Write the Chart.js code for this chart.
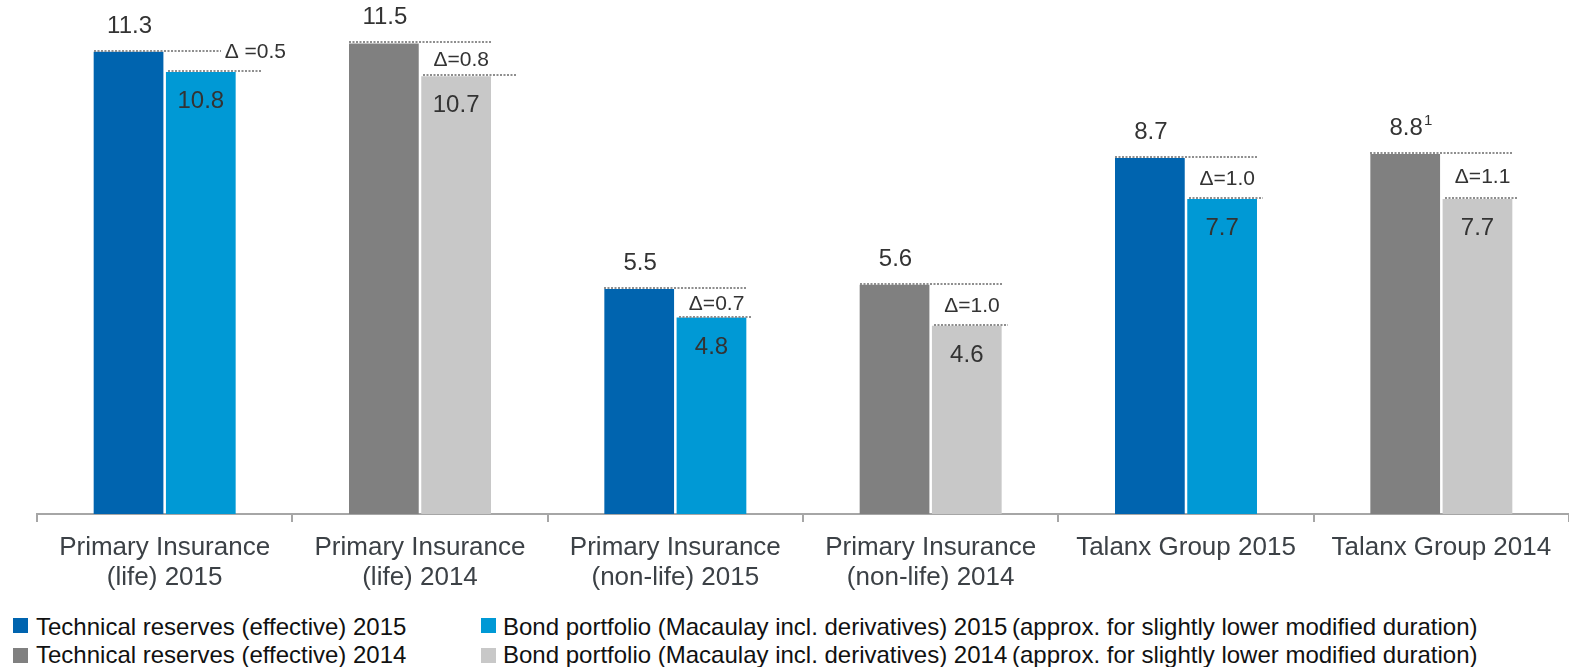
<!DOCTYPE html>
<html>
<head>
<meta charset="utf-8">
<script src="https://cdn.jsdelivr.net/npm/chart.js@4/dist/chart.umd.min.js"></script>
<style>
  html, body { margin: 0; padding: 0; background: #fff; }
  #wrap { position: relative; width: 1569px; height: 667px; overflow: hidden; font-family: "Liberation Sans", Arial, sans-serif; }
  #c { position: absolute; left: 0; top: 0; }
  .lg { position: absolute; font-size: 24px; line-height: 28px; color: #111; white-space: nowrap; }
  .sq { position: absolute; width: 15px; height: 15px; }
</style>
</head>
<body>
<div id="wrap">
  <canvas id="c" width="1569" height="600"></canvas>
  <div id="legend"></div>
</div>
<script>
// ---- Data ----
const categories = [
  ["Primary Insurance", "(life) 2015"],
  ["Primary Insurance", "(life) 2014"],
  ["Primary Insurance", "(non-life) 2015"],
  ["Primary Insurance", "(non-life) 2014"],
  "Talanx Group 2015",
  "Talanx Group 2014"
];
const reserves2015 = [11.3, null, 5.5, null, 8.7, null];
const bonds2015    = [10.8, null, 4.8, null, 7.7, null];
const reserves2014 = [null, 11.5, null, 5.6, null, 8.8];
const bonds2014    = [null, 10.7, null, 4.6, null, 7.7];
const deltaLabels  = ["Δ =0.5", "Δ=0.8", "Δ=0.7", "Δ=1.0", "Δ=1.0", "Δ=1.1"];
const footnotes    = ["", "", "", "", "", "1"];
const seriesNames = [
  "Technical reserves (effective) 2015",
  "Bond portfolio (Macaulay incl. derivatives) 2015",
  "Technical reserves (effective) 2014",
  "Bond portfolio (Macaulay incl. derivatives) 2014"
];
const legendNote = "(approx. for slightly lower modified duration)";
const colors = ["#0064AF", "#0099D5", "#808080", "#C8C8C8"];

// ---- Annotation plugin ----
const annot = {
  id: 'annot',
  afterDatasetsDraw(chart) {
    const ctx = chart.ctx;
    const ds = chart.data.datasets;
    for (let i = 0; i < categories.length; i++) {
      const resIdx = ds[0].data[i] != null ? 0 : 2;
      const bondIdx = resIdx + 1;
      const r = chart.getDatasetMeta(resIdx).data[i];
      const b = chart.getDatasetMeta(bondIdx).data[i];
      const rv = ds[resIdx].data[i], bv = ds[bondIdx].data[i];
      const rL = r.x - r.width / 2, bL = b.x - b.width / 2, bR = b.x + b.width / 2;
      const ry = Math.round(r.y), by = Math.round(b.y);
      const gap = by - ry;
      ctx.save();
      ctx.strokeStyle = '#8e8e8e';
      ctx.lineWidth = 2;
      ctx.setLineDash([2, 1.5]);
      ctx.font = '21px "Liberation Sans", Arial, sans-serif';
      ctx.fillStyle = '#333';
      ctx.textBaseline = 'middle';
      let resEnd = bR;
      if (gap < 28) {
        resEnd = bR - 15;
        ctx.textAlign = 'left';
        ctx.fillText(deltaLabels[i], bR - 11, ry);
      } else {
        ctx.textAlign = 'right';
        ctx.fillText(deltaLabels[i], bR - 2, (ry + by) / 2 + 1);
      }
      ctx.beginPath();
      ctx.moveTo(Math.round(rL), ry - 1); ctx.lineTo(Math.round(resEnd), ry - 1);
      ctx.moveTo(Math.round(bL + 2), by - 1); ctx.lineTo(Math.round(bR + (gap < 40 && i < 2 ? 25 : 6)), by - 1);
      ctx.stroke();
      ctx.setLineDash([]);
      // values
      ctx.font = '24px "Liberation Sans", Arial, sans-serif';
      ctx.fillStyle = '#333';
      ctx.textAlign = 'center';
      const rt = rv.toFixed(1);
      ctx.fillText(rt, r.x + 1, ry - 26);
      if (footnotes[i]) {
        const w = ctx.measureText(rt).width;
        ctx.font = '15px "Liberation Sans", Arial, sans-serif';
        ctx.textAlign = 'left';
        ctx.fillText(footnotes[i], r.x + 1 + w / 2 + 1, ry - 33);
        ctx.font = '24px "Liberation Sans", Arial, sans-serif';
        ctx.textAlign = 'center';
      }
      ctx.fillText(bv.toFixed(1), b.x, by + 29);
      ctx.restore();
    }
  }
};

const chart = new Chart(document.getElementById('c'), {
  type: 'bar',
  data: {
    labels: categories,
    datasets: [
      { label: seriesNames[0], data: reserves2015, backgroundColor: colors[0] },
      { label: seriesNames[1], data: bonds2015, backgroundColor: colors[1] },
      { label: seriesNames[2], data: reserves2014, backgroundColor: colors[2] },
      { label: seriesNames[3], data: bonds2014, backgroundColor: colors[3] }
    ]
  },
  options: {
    responsive: false,
    animation: false,
    devicePixelRatio: 1,
    skipNull: true,
    categoryPercentage: 0.566,
    barPercentage: 0.965,
    layout: { padding: { left: 37, top: 23, right: 0, bottom: 0 } },
    plugins: { legend: { display: false }, tooltip: { enabled: false } },
    scales: {
      y: { display: false, min: 0, max: 12 },
      x: {
        afterFit(s) { s.height = 86; },
        border: { display: true, color: '#A6A6A6', width: 2 },
        grid: { drawOnChartArea: false, drawTicks: true, tickLength: 8, color: '#A6A6A6', lineWidth: 2 },
        ticks: {
          color: '#3c4146',
          padding: 11,
          maxRotation: 0,
          autoSkip: false,
          font: { family: '"Liberation Sans", Arial, sans-serif', size: 26, lineHeight: 1.15 }
        }
      }
    }
  },
  plugins: [annot]
});

// ---- HTML legend ----
const lg = document.getElementById('legend');
const pos = [
  { sq: [13, 618], tx: [36, 613] },
  { sq: [481, 618], tx: [503, 613], note: 1012 },
  { sq: [13, 648], tx: [36, 641] },
  { sq: [481, 648], tx: [503, 641], note: 1012 }
];
seriesNames.forEach((name, k) => {
  const p = pos[k];
  const s = document.createElement('div');
  s.className = 'sq';
  s.style.left = p.sq[0] + 'px'; s.style.top = p.sq[1] + 'px'; s.style.background = colors[k];
  lg.appendChild(s);
  const t = document.createElement('div');
  t.className = 'lg';
  t.style.left = p.tx[0] + 'px'; t.style.top = p.tx[1] + 'px';
  t.textContent = name;
  lg.appendChild(t);
  if (p.note) {
    const n = document.createElement('div');
    n.className = 'lg';
    n.style.left = p.note + 'px'; n.style.top = p.tx[1] + 'px';
    n.textContent = legendNote;
    lg.appendChild(n);
  }
});
</script>
</body>
</html>
